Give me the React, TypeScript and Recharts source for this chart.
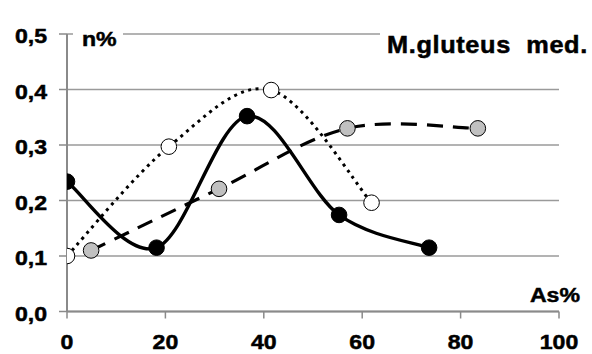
import React from 'react';
import { LineChart, Line, XAxis, YAxis, CartesianGrid, Customized } from 'recharts';

// ---- data ----
const solidX = [0, 18.2, 36.6, 55.3, 73.6];
const solidY = [0.234, 0.115, 0.352, 0.174, 0.115];
const dottedX = [0, 20.7, 41.5, 61.9];
const dottedY = [0.1, 0.297, 0.399, 0.196];
const dashedX = [4.9, 30.9, 57.0, 83.5];
const dashedY = [0.11, 0.221, 0.33, 0.33];
const xTicks = [0, 20, 40, 60, 80, 100];
const yTicks = [0, 0.1, 0.2, 0.3, 0.4, 0.5];
const title = 'M.gluteus  med.';
const yLabel = 'n%';
const xLabel = 'As%';

const toRows = (xs: number[], ys: number[]) => xs.map((x, i) => ({ x, y: ys[i] }));
const solidData = toRows(solidX, solidY);
const dottedData = toRows(dottedX, dottedY);
const dashedData = toRows(dashedX, dashedY);

// Catmull-Rom like smoothing (Excel-style smoothed line)
const smooth = (context: any) => {
  let pts: number[][] = [];
  return {
    areaStart() {},
    areaEnd() {},
    lineStart() { pts = []; },
    point(x: number, y: number) { pts.push([+x, +y]); },
    lineEnd() {
      const n = pts.length;
      if (!n) return;
      context.moveTo(pts[0][0], pts[0][1]);
      for (let i = 0; i < n - 1; i++) {
        const p0 = pts[i - 1] || pts[i];
        const p1 = pts[i];
        const p2 = pts[i + 1];
        const p3 = pts[i + 2] || pts[i + 1];
        const c1x = p1[0] + (p2[0] - p0[0]) / 6;
        const c1y = p1[1] + (p2[1] - p0[1]) / 6;
        const c2x = p2[0] - (p3[0] - p1[0]) / 6;
        const c2y = p2[1] - (p3[1] - p1[1]) / 6;
        context.bezierCurveTo(c1x, c1y, c2x, c2y, p2[0], p2[1]);
      }
    },
  };
};

const FONT = '"Liberation Sans", Arial, sans-serif';
const FS = 21;
const SX = 1.1;
const fmt = (v: number) => v.toFixed(1).replace('.', ',');
const textStyle = { stroke: '#000', strokeWidth: 0.5 };

const XTick = (props: any) => {
  const { x, y, payload } = props;
  return (
    <text
      transform={`translate(${x},${y + 0.71 * FS}) scale(${SX},1)`}
      textAnchor="middle"
      fontFamily={FONT}
      fontWeight="bold"
      fontSize={FS}
      fill="#000"
      {...textStyle}
    >
      {String(payload.value)}
    </text>
  );
};

const YTick = (props: any) => {
  const { x, y, payload } = props;
  return (
    <text
      transform={`translate(${x},${y + 9}) scale(${SX},1)`}
      textAnchor="end"
      fontFamily={FONT}
      fontWeight="bold"
      fontSize={FS}
      fill="#000"
      {...textStyle}
    >
      {fmt(payload.value)}
    </text>
  );
};

const Overlay = () => (
  <g fontFamily={FONT} fontWeight="bold" fill="#000">
    <rect x={73} y={24} width={50} height={20} fill="#fff" />
    <text transform={`translate(82,46) scale(${SX},1)`} fontSize={FS} {...textStyle}>{yLabel}</text>
    <rect x={380} y={24} width={212} height={20} fill="#fff" />
    <text
      transform={`translate(387,53) scale(${SX},1)`}
      fontSize={23}
      letterSpacing={0.6}
      style={{ whiteSpace: 'pre' }}
      {...textStyle}
    >
      {title}
    </text>
    <text transform={`translate(580,302) scale(${SX},1)`} fontSize={FS} textAnchor="end" {...textStyle}>{xLabel}</text>
  </g>
);

const blackDot = { r: 7.8, fill: '#000', stroke: '#000', strokeWidth: 1, strokeDasharray: 'none' };
const whiteDot = { r: 7.8, fill: '#fff', stroke: '#000', strokeWidth: 1, strokeDasharray: 'none' };
const grayDot = { r: 7.8, fill: '#c0c0c0', stroke: '#000', strokeWidth: 1, strokeDasharray: 'none' };

export default function App() {
  return (
    <div style={{ position: 'absolute', left: 0, top: 0, width: 592, height: 354, background: '#fff' }}>
      <LineChart width={592} height={354} margin={{ top: 34, right: 33, bottom: 0, left: 0 }}>
        <CartesianGrid horizontal vertical={false} stroke="#9a9a9a" strokeWidth={1.3} />
        <XAxis
          type="number"
          dataKey="x"
          domain={[0, 100]}
          ticks={xTicks}
          allowDataOverflow
          height={42.5}
          tickSize={7}
          tickMargin={15.5}
          axisLine={{ stroke: '#8a8a8a', strokeWidth: 2 }}
          tickLine={{ stroke: '#8a8a8a', strokeWidth: 1.5 }}
          tick={<XTick />}
        />
        <YAxis
          type="number"
          dataKey="y"
          domain={[0, 0.5]}
          ticks={yTicks}
          width={67}
          tickSize={8}
          tickMargin={12}
          axisLine={{ stroke: '#8a8a8a', strokeWidth: 2 }}
          tickLine={{ stroke: '#8a8a8a', strokeWidth: 1.5 }}
          tick={<YTick />}
        />
        <Customized component={Overlay} />
        <Line
          data={dottedData}
          dataKey="y"
          type={smooth as any}
          stroke="#000"
          strokeWidth={3}
          strokeDasharray="3 4.5"
          dot={whiteDot}
          activeDot={false}
          isAnimationActive={false}
        />
        <Line
          data={dashedData}
          dataKey="y"
          type={smooth as any}
          stroke="#000"
          strokeWidth={3.2}
          strokeDasharray="16 10"
          dot={grayDot}
          activeDot={false}
          isAnimationActive={false}
        />
        <Line
          data={solidData}
          dataKey="y"
          type={smooth as any}
          stroke="#000"
          strokeWidth={3.4}
          dot={blackDot}
          activeDot={false}
          isAnimationActive={false}
        />
      </LineChart>
    </div>
  );
}
